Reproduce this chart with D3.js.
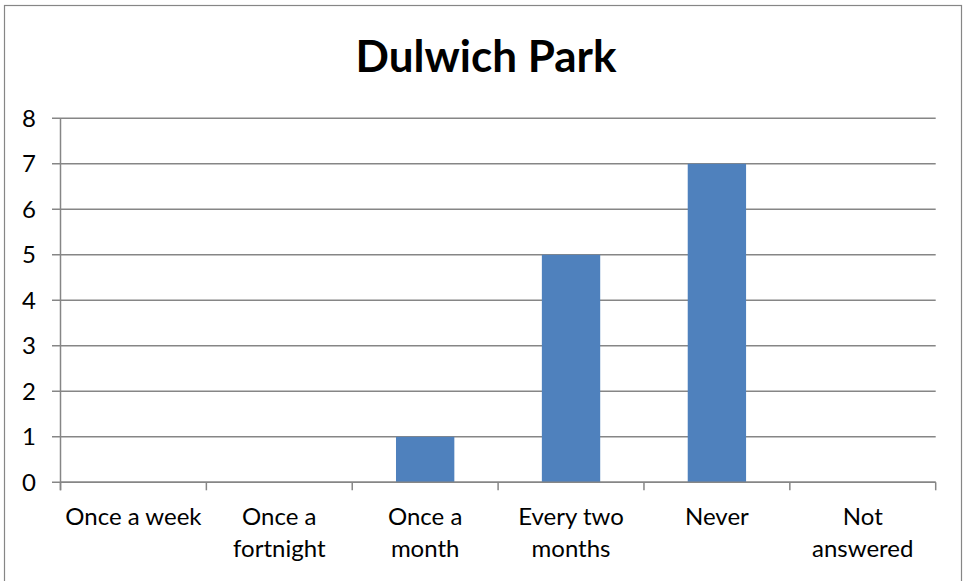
<!DOCTYPE html>
<html><head><meta charset="utf-8">
<script src="https://cdn.jsdelivr.net/npm/d3@7"></script>
<style>body{margin:0;background:#fff}svg{display:block}</style>
</head><body><svg id="c" width="965" height="581"></svg>
<script>
const categories = [["Once a week"],["Once a","fortnight"],["Once a","month"],["Every two","months"],["Never"],["Not","answered"]];
const values = [0,0,1,5,7,0];
const yTicks = [0,1,2,3,4,5,6,7,8];
const title = "Dulwich Park";

const svg = d3.select("#c");
const font = "Lato, 'Open Sans', sans-serif";
const m = {left:60.5, right:935.7, top:118.3, bottom:482.3};
svg.append("rect").attr("x",4.5).attr("y",5.5).attr("width",957).attr("height",600)
  .attr("fill","#fff").attr("stroke","#868686").attr("stroke-width",1.2);

const x = d3.scaleBand().domain(d3.range(categories.length)).range([m.left,m.right]).padding(0);
const y = d3.scaleLinear().domain([0,8]).range([m.bottom,m.top]);

// gridlines
svg.append("g").selectAll("line").data(yTicks).join("line")
  .attr("x1",52).attr("x2",m.right).attr("y1",d=>y(d)).attr("y2",d=>y(d))
  .attr("stroke","#868686").attr("stroke-width",1.5);

// bars
const bw = x.bandwidth()*0.4;
svg.append("g").selectAll("rect").data(values).join("rect")
  .attr("x",(d,i)=>x(i)+x.bandwidth()/2-bw/2).attr("width",bw)
  .attr("y",d=>y(d)).attr("height",d=>y(0)-y(d)).attr("fill","#4F81BD");

// y axis line
svg.append("line").attr("x1",m.left).attr("x2",m.left).attr("y1",m.top).attr("y2",m.bottom+8)
  .attr("stroke","#868686").attr("stroke-width",1.5);
// x axis
svg.append("line").attr("x1",m.left).attr("x2",m.right).attr("y1",m.bottom).attr("y2",m.bottom)
  .attr("stroke","#868686").attr("stroke-width",1.5);
const ticksX = d3.range(categories.length+1).map(i=> i<categories.length ? x(i) : m.right);
svg.append("g").selectAll("line").data(ticksX).join("line")
  .attr("x1",d=>d).attr("x2",d=>d).attr("y1",m.bottom).attr("y2",m.bottom+8)
  .attr("stroke","#868686").attr("stroke-width",1.5);

// y labels
svg.append("g").selectAll("text").data(yTicks).join("text")
  .attr("x",36).attr("y",d=>y(d)).attr("dy","0.36em").attr("text-anchor","end")
  .attr("font-family",font).attr("font-size",24).attr("fill","#000").text(d=>d);

// x labels
const xl = svg.append("g").selectAll("text").data(categories).join("text")
  .attr("x",(d,i)=>x(i)+x.bandwidth()/2).attr("y",525).attr("text-anchor","middle")
  .attr("font-family",font).attr("font-size",24).attr("fill","#000");
xl.selectAll("tspan").data(d=>d).join("tspan")
  .attr("x",function(){return this.parentNode.getAttribute("x");})
  .attr("dy",(d,i)=>i===0?0:31.5).text(d=>d);

svg.append("text").attr("x",486).attr("y",72).attr("text-anchor","middle")
  .attr("font-family",font).attr("font-weight","bold").attr("font-size",44).text(title);
</script></body></html>
